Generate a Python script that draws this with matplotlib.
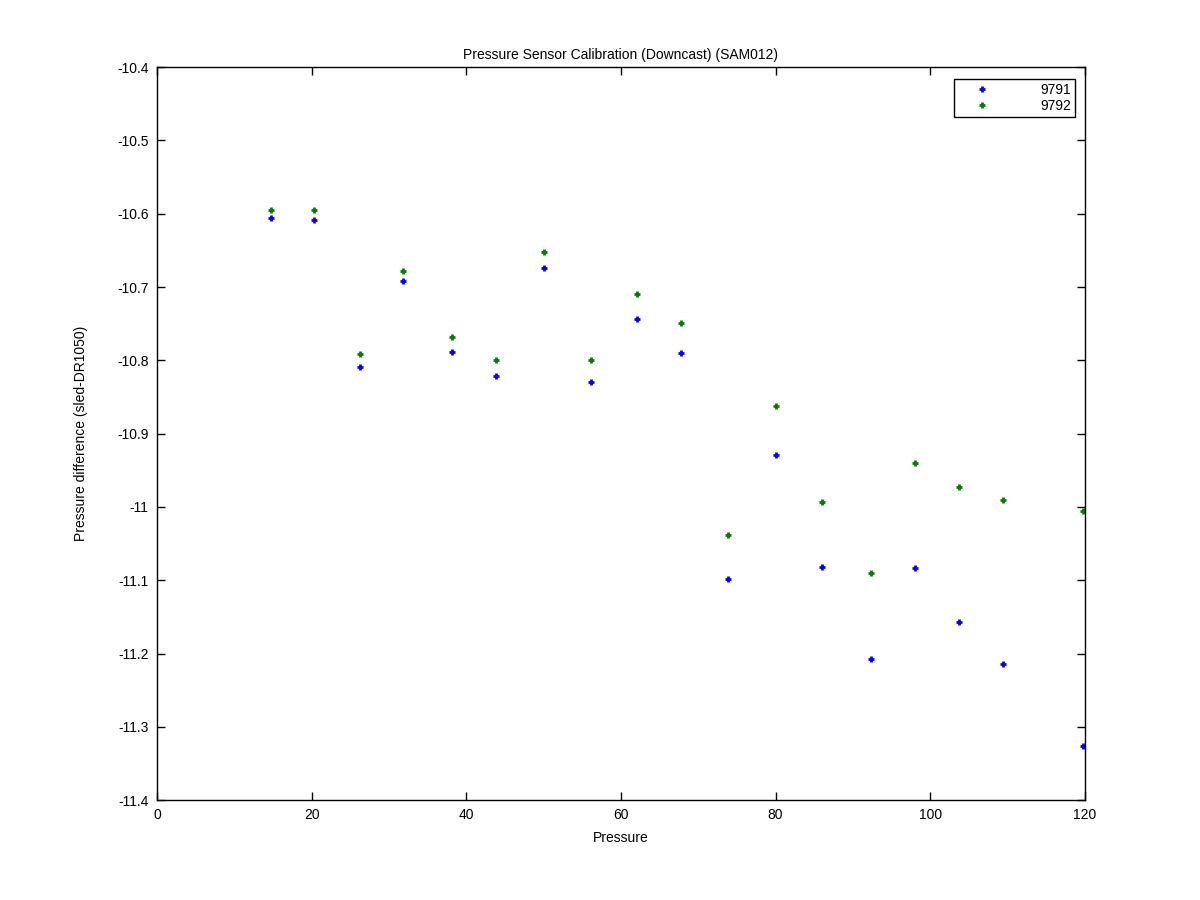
import matplotlib
matplotlib.use("Agg")
import matplotlib.pyplot as plt

# Pressure values (same for both sensors)
pressure = [14.8, 20.3, 26.2, 31.8, 38.2, 43.8, 50.0, 56.1, 62.1, 67.8,
            73.8, 80.0, 86.0, 92.4, 98.0, 103.7, 109.4, 119.8]

# Pressure difference (sled - DR1050)
diff_9791 = [-10.606, -10.609, -10.809, -10.692, -10.789, -10.822, -10.674, -10.830, -10.744, -10.790,
             -11.098, -10.929, -11.082, -11.208, -11.083, -11.157, -11.214, -11.326]
diff_9792 = [-10.595, -10.595, -10.792, -10.678, -10.768, -10.800, -10.652, -10.800, -10.710, -10.749,
             -11.038, -10.862, -10.993, -11.090, -10.940, -10.973, -10.991, -11.006]

labels = ["9791", "9792"]
colors = ["#0000ff", "#007f00"]

plt.rcParams["font.family"] = ["Liberation Sans", "DejaVu Sans"]
plt.rcParams["font.size"] = 10

fig = plt.figure(figsize=(12, 9), dpi=100)
ax = fig.add_axes([0.1308, 0.111, 0.7733, 0.8144])

for ys, lab, col in zip([diff_9791, diff_9792], labels, colors):
    ax.plot(pressure, ys, linestyle="none", marker="+", markersize=4,
            markeredgewidth=2.0, color=col, label=lab)

ax.set_xlim(0, 120)
ax.set_ylim(-11.4, -10.4)
ax.set_xticks(range(0, 121, 20))
ax.set_yticks([-11.4 + 0.1 * i for i in range(11)])
ax.set_yticklabels(["-11.4", "-11.3", "-11.2", "-11.1", "-11", "-10.9",
                    "-10.8", "-10.7", "-10.6", "-10.5", "-10.4"])

ax.tick_params(direction="in", top=True, right=True, length=6, width=1,
               labelsize=10, pad=6)
for s in ax.spines.values():
    s.set_linewidth(1)

ax.set_xlabel("Pressure", fontsize=10, labelpad=6)
ax.set_ylabel("Pressure difference (sled-DR1050)", fontsize=10, labelpad=21)
ax.set_title("Pressure Sensor Calibration (Downcast) (SAM012)", fontsize=10, pad=6)

leg = ax.legend(loc="upper right", bbox_to_anchor=(1 - 10 / 928, 1 - 12 / 733),
                borderaxespad=0, frameon=True, fancybox=False, framealpha=1,
                edgecolor="black", fontsize=10, handlelength=3.5,
                handletextpad=2.4, borderpad=0.3, labelspacing=0.12)
leg.get_frame().set_linewidth(1)

fig.savefig("out.png", dpi=100)
